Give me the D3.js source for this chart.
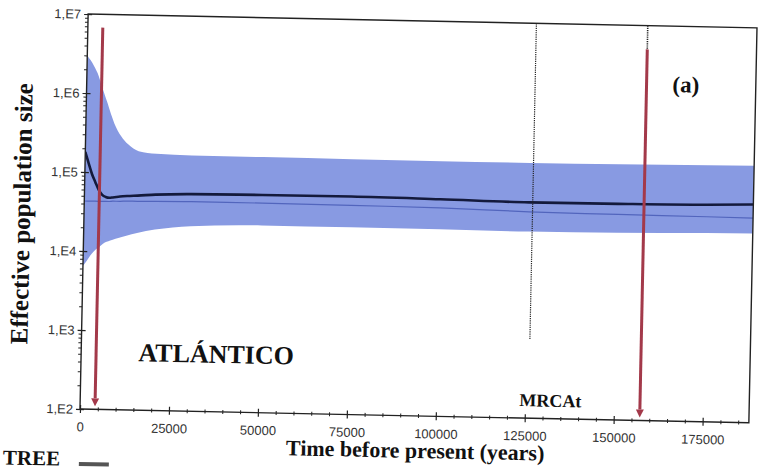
<!DOCTYPE html>
<html>
<head>
<meta charset="utf-8">
<script src="https://cdn.jsdelivr.net/npm/d3@7"></script>
<style>
  body { margin: 0; background: #fff; }
  svg { display: block; }
</style>
</head>
<body>
<svg id="chart" width="760" height="470"></svg>
<script>
// Bayesian skyline: time before present (years) and effective population size
const timeYears = [0, 1000, 2000, 3000, 4000, 5000, 6000, 7000, 8000, 10000, 12000,
  15000, 20000, 30000, 50000, 75000, 100000, 125000, 150000, 175000, 188000];
const upperHPD = [3.0e6, 2.6e6, 2.2e6, 1.8e6, 1.35e6, 1.0e6, 7.5e5, 5.5e5, 4.2e5, 2.9e5, 2.3e5,
  1.9e5, 1.78e5, 1.73e5, 1.72e5, 1.71e5, 1.7e5, 1.7e5, 1.73e5, 1.77e5, 1.8e5];
const lowerHPD = [6.5e3, 7.5e3, 8.8e3, 1.0e4, 1.1e4, 1.2e4, 1.3e4, 1.35e4, 1.4e4, 1.5e4, 1.6e4,
  1.75e4, 1.95e4, 2.2e4, 2.35e4, 2.35e4, 2.33e4, 2.3e4, 2.35e4, 2.45e4, 2.5e4];
const medianNe = [1.8e5, 1.3e5, 9.5e4, 7.5e4, 6.0e4, 5.2e4, 4.9e4, 4.8e4, 4.85e4, 5.0e4, 5.1e4,
  5.2e4, 5.4e4, 5.6e4, 5.7e4, 5.75e4, 5.6e4, 5.4e4, 5.45e4, 5.6e4, 5.8e4];
const meanNe = [4.3e4, 4.3e4, 4.3e4, 4.3e4, 4.3e4, 4.3e4, 4.3e4, 4.3e4, 4.35e4, 4.35e4, 4.4e4,
  4.4e4, 4.45e4, 4.5e4, 4.5e4, 4.45e4, 4.35e4, 4.1e4, 4.0e4, 3.95e4, 3.9e4];

// x axis ticks and y axis decades
const xTicks = [0, 25000, 50000, 75000, 100000, 125000, 150000, 175000];
const yTicks = [1e2, 1e3, 1e4, 1e5, 1e6, 1e7];
const yTickLabels = ["1,E2", "1,E3", "1,E4", "1,E5", "1,E6", "1,E7"];

// event markers: [time, lower value, upper value]
const mrcaLine = [126000, 1e3, 1e7];
const arrowEvents = [[4200, 6.8e6], [157300, 5e6]];
const dottedEvent = [157300, 5e6, 1e7];

const svg = d3.select("#chart");
const pLeft = 80, pRight = 749, pTop = 14, pBottom = 409;

const x = d3.scaleLinear().domain([0, 188000]).range([pLeft, pRight]);
const y = d3.scaleLog().domain([1e2, 1e7]).range([pBottom, pTop]);

// the whole figure sits slightly tilted
const g = svg.append("g").attr("transform", `rotate(1.18, ${pLeft}, ${pBottom})`);

const defs = svg.append("defs");
defs.append("clipPath").attr("id", "plotClip")
  .append("rect").attr("x", pLeft).attr("y", pTop).attr("width", pRight - pLeft).attr("height", pBottom - pTop);
defs.append("marker").attr("id", "redHead")
  .attr("viewBox", "0 0 10 10").attr("refX", 5).attr("refY", 0)
  .attr("markerWidth", 8).attr("markerHeight", 11).attr("markerUnits", "userSpaceOnUse")
  .attr("orient", "0")
  .append("path").attr("d", "M0,0 L10,0 L5,10 Z").attr("fill", "#a3394a");

const rows = timeYears.map((t, i) => ({ t, lo: lowerHPD[i], hi: upperHPD[i], med: medianNe[i], mean: meanNe[i] }));

const plot = g.append("g").attr("clip-path", "url(#plotClip)");

plot.append("path").datum(rows)
  .attr("fill", "#889ae2")
  .attr("d", d3.area().x(d => x(d.t)).y0(d => y(d.lo)).y1(d => y(d.hi)).curve(d3.curveMonotoneX));

plot.append("path").datum(rows)
  .attr("fill", "none").attr("stroke", "#5265bd").attr("stroke-width", 1.2)
  .attr("d", d3.line().x(d => x(d.t)).y(d => y(d.mean)).curve(d3.curveMonotoneX));

plot.append("path").datum(rows)
  .attr("fill", "none").attr("stroke", "#141a3c").attr("stroke-width", 2.6)
  .attr("d", d3.line().x(d => x(d.t)).y(d => y(d.med)).curve(d3.curveMonotoneX));

// dotted event lines
g.append("line")
  .attr("x1", x(mrcaLine[0])).attr("x2", x(mrcaLine[0]))
  .attr("y1", y(mrcaLine[2])).attr("y2", y(mrcaLine[1]))
  .attr("stroke", "#222").attr("stroke-width", 1.2).attr("stroke-dasharray", "1.2,1");
g.append("line")
  .attr("x1", x(dottedEvent[0])).attr("x2", x(dottedEvent[0]))
  .attr("y1", y(dottedEvent[2])).attr("y2", y(dottedEvent[1]))
  .attr("stroke", "#222").attr("stroke-width", 1.6).attr("stroke-dasharray", "1.2,1");

// red arrows
arrowEvents.forEach(([t, v]) => {
  g.append("line")
    .attr("x1", x(t)).attr("x2", x(t))
    .attr("y1", y(v)).attr("y2", y(1e2) - 11)
    .attr("stroke", "#a3394a").attr("stroke-width", 3)
    .attr("marker-end", "url(#redHead)");
});

// frame
g.append("rect").attr("x", pLeft).attr("y", pTop).attr("width", pRight - pLeft).attr("height", pBottom - pTop)
  .attr("fill", "none").attr("stroke", "#222").attr("stroke-width", 1.4);

// x axis
const xAxis = g.append("g").attr("transform", `translate(0,${pBottom})`)
  .call(d3.axisBottom(x).tickValues(xTicks).tickFormat(d3.format("d")).tickSize(4).tickPadding(9));
xAxis.select(".domain").remove();
xAxis.selectAll(".tick line").attr("y1", -4).attr("y2", 4).attr("stroke", "#222").attr("stroke-width", 1.2);
xAxis.selectAll("text").attr("font-family", "Arial, 'Liberation Sans', sans-serif")
  .attr("font-size", 13).attr("fill", "#333");

const xMinor = d3.range(5000, 188000, 5000).filter(v => v % 25000 !== 0);
const xMinorAxis = g.append("g").attr("transform", `translate(0,${pBottom})`)
  .call(d3.axisBottom(x).tickValues(xMinor).tickFormat("").tickSize(2));
xMinorAxis.select(".domain").remove();
xMinorAxis.selectAll(".tick line").attr("y1", -2).attr("y2", 2).attr("stroke", "#222");

// y axis
const yAxis = g.append("g").attr("transform", `translate(${pLeft},0)`)
  .call(d3.axisLeft(y).tickValues(yTicks).tickFormat((d, i) => yTickLabels[i]).tickSize(4).tickPadding(3));
yAxis.select(".domain").remove();
yAxis.selectAll(".tick line").attr("x1", -4).attr("x2", 4).attr("stroke", "#222").attr("stroke-width", 1.2);
yAxis.selectAll("text").attr("font-family", "Arial, 'Liberation Sans', sans-serif")
  .attr("font-size", 13).attr("fill", "#333");

const yMinor = [];
for (let e = 2; e < 7; e++) for (let m = 2; m <= 9; m++) yMinor.push(m * Math.pow(10, e));
const yMinorAxis = g.append("g").attr("transform", `translate(${pLeft},0)`)
  .call(d3.axisLeft(y).tickValues(yMinor).tickFormat("").tickSize(3));
yMinorAxis.select(".domain").remove();
yMinorAxis.selectAll(".tick line").attr("stroke", "#222");

// titles and annotations
const serif = "'Liberation Serif', 'Times New Roman', serif";
g.append("text").attr("transform", "translate(26,215) rotate(-90)")
  .attr("text-anchor", "middle").attr("font-family", serif).attr("font-weight", "bold")
  .attr("font-size", 25).attr("fill", "#111").text("Effective population size");
g.append("text").attr("x", 416).attr("y", 451)
  .attr("text-anchor", "middle").attr("font-family", serif).attr("font-weight", "bold")
  .attr("font-size", 22).attr("fill", "#111").text("Time before present (years)");
g.append("text").attr("x", 215).attr("y", 360)
  .attr("text-anchor", "middle").attr("font-family", serif).attr("font-weight", "bold")
  .attr("font-size", 26).attr("fill", "#111").text("ATLÁNTICO");
g.append("text").attr("x", 550).attr("y", 397)
  .attr("text-anchor", "middle").attr("font-family", serif).attr("font-weight", "bold")
  .attr("font-size", 18).attr("fill", "#111").text("MRCAt");
g.append("text").attr("x", 679).attr("y", 80)
  .attr("text-anchor", "middle").attr("font-family", serif).attr("font-weight", "bold")
  .attr("font-size", 23).attr("fill", "#111").text("(a)");
g.append("text").attr("x", 4).attr("y", 466)
  .attr("font-family", serif).attr("font-weight", "bold")
  .attr("font-size", 21).attr("fill", "#111").text("TREE");
g.append("rect").attr("x", 80).attr("y", 462).attr("width", 30).attr("height", 4).attr("fill", "#555");
</script>
</body>
</html>
